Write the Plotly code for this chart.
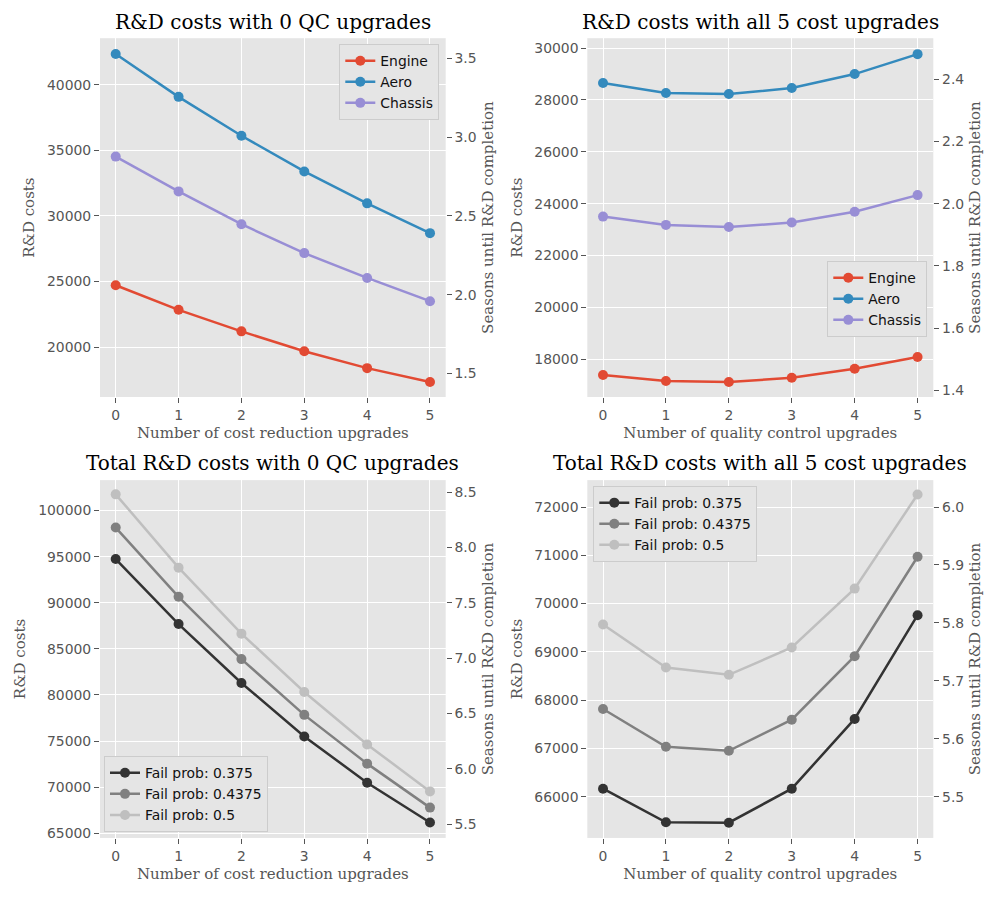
import plotly.graph_objects as go

# ---------------- data ----------------
upgrades = [0, 1, 2, 3, 4, 5]

# Top-left: R&D costs vs cost reduction upgrades (0 QC upgrades)
engine_cr = [24720, 22850, 21210, 19700, 18410, 17350]
aero_cr = [42330, 39070, 36110, 33390, 30960, 28690]
chassis_cr = [34520, 31870, 29370, 27170, 25280, 23510]

# Top-right: R&D costs vs QC upgrades (all 5 cost upgrades)
engine_qc = [17385, 17155, 17115, 17280, 17625, 18080]
aero_qc = [28655, 28270, 28230, 28460, 29000, 29770]
chassis_qc = [23500, 23180, 23100, 23270, 23690, 24330]

# Bottom-left: total costs vs cost reduction upgrades
fail_labels = ["Fail prob: 0.375", "Fail prob: 0.4375", "Fail prob: 0.5"]
total_cr_375 = [94740, 87690, 81300, 75500, 70480, 66160]
total_cr_4375 = [98160, 90650, 83890, 77840, 72550, 67780]
total_cr_5 = [101760, 93810, 86650, 80320, 74630, 69540]

# Bottom-right: total costs vs QC upgrades
total_qc_375 = [66165, 65470, 65460, 66165, 67610, 69760]
total_qc_4375 = [67815, 67035, 66950, 67595, 68910, 70970]
total_qc_5 = [69565, 68675, 68525, 69090, 70310, 72260]

titles = ["R&D costs with 0 QC upgrades", "R&D costs with all 5 cost upgrades",
          "Total R&D costs with 0 QC upgrades", "Total R&D costs with all 5 cost upgrades"]
xlabels = ["Number of cost reduction upgrades", "Number of quality control upgrades",
           "Number of cost reduction upgrades", "Number of quality control upgrades"]
ylabel = "R&D costs"
ylabel2 = "Seasons until R&D completion"

# cost per season (secondary axis scale)
COST_PER_SEASON = 12000

# ---------------- styling ----------------
part_colors = {"Engine": "#E24A33", "Aero": "#348ABD", "Chassis": "#988ED5"}
grey_colors = ["#333333", "#808080", "#BFBFBF"]
TICK = "#555555"
SANS = "DejaVu Sans"
SERIF = "DejaVu Serif"

W, H, OFF = 1000, 900, 8  # page body margin offset


def px(x):
    return (x - OFF) / W


def py(y):
    return 1 - (y - OFF) / H


fig = go.Figure()


def add_line(x, y, name, color, xa, ya, legend):
    fig.add_trace(go.Scatter(
        x=x, y=y, name=name, mode="lines+markers",
        line=dict(color=color, width=2.5),
        marker=dict(color=color, size=10),
        xaxis=xa, yaxis=ya, legend=legend))


add_line(upgrades, engine_cr, "Engine", part_colors["Engine"], "x", "y", "legend")
add_line(upgrades, aero_cr, "Aero", part_colors["Aero"], "x", "y", "legend")
add_line(upgrades, chassis_cr, "Chassis", part_colors["Chassis"], "x", "y", "legend")

add_line(upgrades, engine_qc, "Engine", part_colors["Engine"], "x2", "y2", "legend2")
add_line(upgrades, aero_qc, "Aero", part_colors["Aero"], "x2", "y2", "legend2")
add_line(upgrades, chassis_qc, "Chassis", part_colors["Chassis"], "x2", "y2", "legend2")

for ys, lab, col in zip([total_cr_375, total_cr_4375, total_cr_5], fail_labels, grey_colors):
    add_line(upgrades, ys, lab, col, "x3", "y3", "legend3")
for ys, lab, col in zip([total_qc_375, total_qc_4375, total_qc_5], fail_labels, grey_colors):
    add_line(upgrades, ys, lab, col, "x4", "y4", "legend4")

# empty traces so the secondary (seasons) axes get drawn
for i in range(4):
    fig.add_trace(go.Scatter(x=[], y=[], xaxis="x" + ("" if i == 0 else str(i + 1)),
                             yaxis="y" + str(i + 5), showlegend=False, hoverinfo="skip"))

xdoms = [[px(100), px(445.7)], [px(587.3), px(933.3)], [px(100), px(445.7)], [px(587.3), px(933.3)]]
ydoms = [[py(398.3), py(38.3)], [py(398.3), py(38.3)], [py(840.7), py(481.7)], [py(840.7), py(481.7)]]
yranges = [[16212, 43538], [16538, 30385], [64492, 103304], [65145, 72558]]
ydticks = [5000, 2000, 5000, 1000]
y2dticks = [0.5, 0.2, 0.5, 0.1]

tickfont = dict(family=SANS, size=13.9, color=TICK)
labfont = dict(family=SERIF, size=15, color=TICK)

layout = dict(
    width=W, height=H,
    margin=dict(l=0, r=0, t=0, b=0),
    paper_bgcolor="white", plot_bgcolor="#E5E5E5",
    showlegend=True,
)

for i in range(4):
    n = "" if i == 0 else str(i + 1)
    layout["xaxis" + n] = dict(
        domain=xdoms[i], anchor="y" + n, range=[-0.25, 5.25],
        tickmode="linear", tick0=0, dtick=1,
        showgrid=True, gridcolor="white", gridwidth=1, zeroline=False,
        ticks="outside", ticklen=5, tickcolor=TICK, tickfont=tickfont,
        title=dict(text=xlabels[i], font=labfont, standoff=5),
    )
    layout["yaxis" + n] = dict(
        domain=ydoms[i], anchor="x" + n, range=yranges[i],
        tickmode="linear", tick0=0, dtick=ydticks[i], tickformat="d",
        showgrid=True, gridcolor="white", gridwidth=1, zeroline=False,
        ticks="outside", ticklen=5, tickcolor=TICK, tickfont=tickfont,
        title=dict(text=ylabel, font=labfont, standoff=8),
    )
    layout["yaxis" + str(i + 5)] = dict(
        overlaying="y" + n, anchor="x" + n, side="right",
        range=[yranges[i][0] / COST_PER_SEASON, yranges[i][1] / COST_PER_SEASON],
        tickmode="linear", tick0=0, dtick=y2dticks[i], tickformat=".1f",
        showgrid=False, zeroline=False,
        ticks="outside", ticklen=5, tickcolor=TICK, tickfont=tickfont,
        title=dict(text=ylabel2, font=labfont, standoff=6),
    )

legend_common = dict(
    bgcolor="#E5E5E5", bordercolor="#CCCCCC", borderwidth=1,
    font=dict(family=SANS, size=13.9, color="#111111"),
    xref="paper", yref="paper", tracegroupgap=0, itemwidth=30,
)
layout["legend"] = dict(legend_common, x=px(439.3), y=py(44.3), xanchor="right", yanchor="top")
layout["legend2"] = dict(legend_common, x=px(927.3), y=py(338.3), xanchor="right", yanchor="bottom")
layout["legend3"] = dict(legend_common, x=px(104), y=py(835), xanchor="left", yanchor="bottom")
layout["legend4"] = dict(legend_common, x=px(593.3), y=py(487.7), xanchor="left", yanchor="top")

title_y = [py(22), py(22), py(465), py(465)]
annotations = []
for i in range(4):
    annotations.append(dict(
        text=titles[i], xref="paper", yref="paper",
        x=(xdoms[i][0] + xdoms[i][1]) / 2, y=title_y[i],
        xanchor="center", yanchor="middle", showarrow=False,
        font=dict(family=SERIF, size=20, color="black")))
layout["annotations"] = annotations

fig.update_layout(**layout)
fig.write_html("out.html")
